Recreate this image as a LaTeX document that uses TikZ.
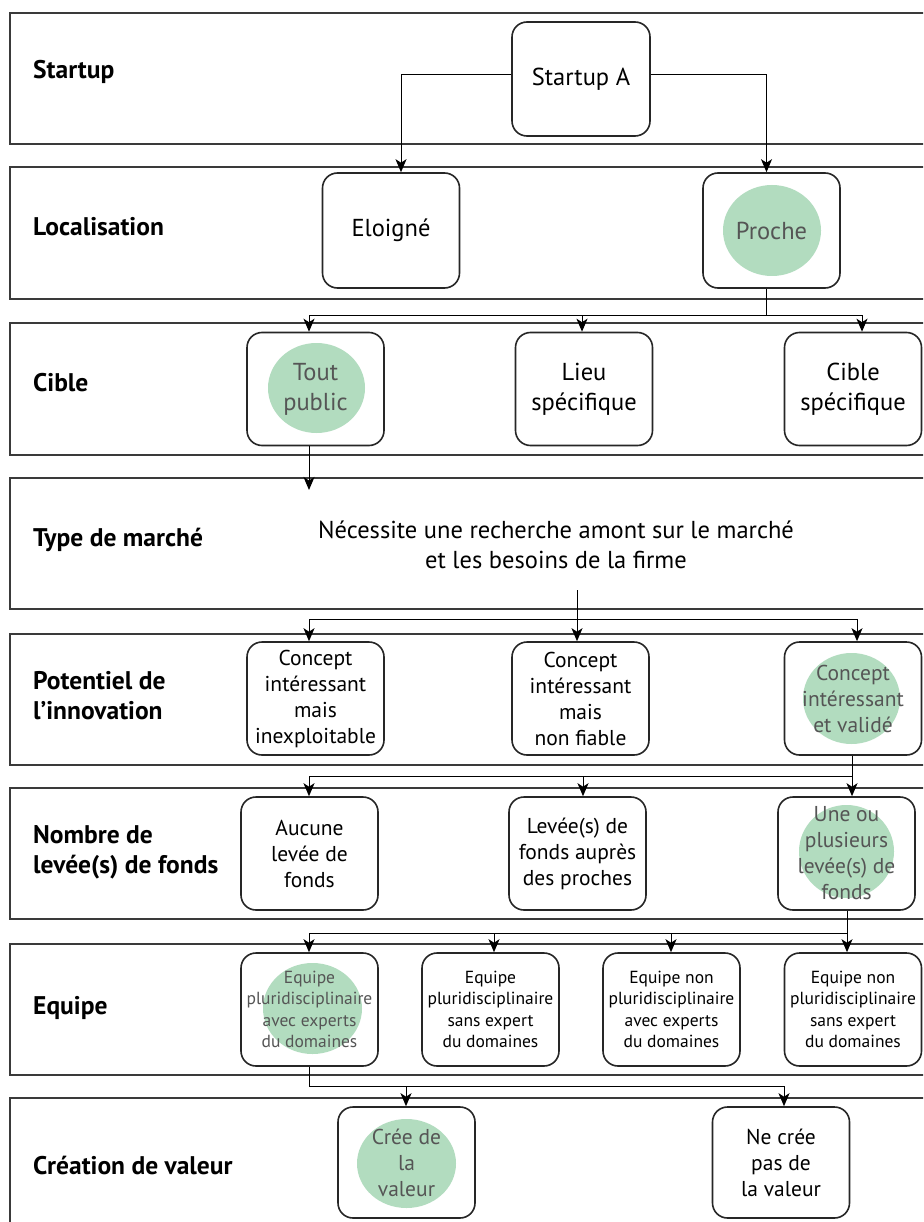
\documentclass[tikz,border=0pt]{standalone}
\usepackage{fontspec}
\setmainfont{PT Sans}
\usetikzlibrary{arrows.meta}
\definecolor{bandc}{HTML}{3A3A3A}
\definecolor{lgreen}{RGB}{178,220,191}
\definecolor{gtext}{HTML}{555555}
\begin{document}
\begin{tikzpicture}[x=1pt,y=-1pt,
  band/.style={draw=bandc, line width=1.5pt},
  box/.style={draw=black!85, line width=1.6pt, rounded corners=15pt, align=center, inner sep=0pt, minimum width=137pt, minimum height=113pt},
  lab/.style={anchor=west, align=left, inner sep=0pt, font=\bfseries\fontsize{25.5}{30}\selectfont},
  arr/.style={-{Stealth[length=13pt,width=11pt,inset=3.5pt]}, line width=1pt},
  ln/.style={line width=1pt},
  hl/.style={fill=lgreen, draw=none},
  big/.style={font=\fontsize{24.5}{30}\selectfont},
  mid/.style={font=\fontsize{21.5}{26}\selectfont},
  small/.style={font=\fontsize{17.5}{21.5}\selectfont},
  gt/.style={text=gtext}
]
\clip (0,0) rectangle (923,1222);
\fill[white] (0,0) rectangle (923,1222);

% bands
\draw[band] (10,13) rectangle (940,144);
\draw[band] (10,167) rectangle (940,299);
\draw[band] (10,323) rectangle (940,455);
\draw[band] (10,478) rectangle (940,609);
\draw[band] (10,634) rectangle (940,765);
\draw[band] (10,788) rectangle (940,919);
\draw[band] (10,944) rectangle (940,1075);
\draw[band] (10,1098) rectangle (940,1240);

% labels
\node[lab] (L1) at (33,72) {Startup};
\node[lab] (L2) at (33,227) {Localisation};
\node[lab] (L3) at (33,383) {Cible};
\node[lab] (L4) at (33,540) {Type de marché};
\node[lab] (L5) at (33,696) {Potentiel de\\l’innovation};
\node[lab] (L6) at (33,852) {Nombre de\\levée(s) de fonds};
\node[lab] (L7) at (33,1008) {Equipe};
\node[lab] (L8) at (33,1165) {Création de valeur};

% green highlights
\fill[hl] (772,230.5) ellipse [x radius=49, y radius=45.5];
\fill[hl] (316.5,388) ellipse [x radius=48.5, y radius=45];
\fill[hl] (851.5,698.5) ellipse [x radius=48.5, y radius=45.5];
\fill[hl] (846.5,851.5) ellipse [x radius=47.5, y radius=46.5];
\fill[hl] (312.5,1008.5) ellipse [x radius=49.5, y radius=45.5];
\fill[hl] (406.5,1163.5) ellipse [x radius=49.5, y radius=44.5];

% row 1
\node[box, big, minimum width=138pt, minimum height=114pt] (A) at (581,79) {Startup A};
% row 2
\node[box, big, minimum height=115pt] (elo) at (391,230.5) {Eloigné};
\node[box, big, gt, minimum height=115pt] (pro) at (771.5,230.5) {Proche};
% row 3
\node[box, big, gt] (tp) at (315.5,389) {Tout\\public};
\node[box, big] (lieu) at (584,389) {Lieu\\spécifique};
\node[box, big] (cs) at (853,389) {Cible\\spécifique};
% row 4
\node[big, align=center] (mk) at (556,545) {Nécessite une recherche amont sur le marché\\et les besoins de la firme};
% row 5
\node[box, mid] (c1) at (315.5,698.5) {Concept\\intéressant\\mais\\inexploitable};
\node[box, mid] (c2) at (580.5,698.5) {Concept\\intéressant\\mais\\non fiable};
\node[box, mid, gt] (c3) at (853,698.5) {Concept\\intéressant\\et validé};
% row 6
\node[box, mid] (l1) at (309.5,853.5) {Aucune\\levée de\\fonds};
\node[box, mid] (l2) at (577.5,853.5) {Levée(s) de\\fonds auprès\\des proches};
\node[box, mid, gt] (l3) at (846.5,853.5) {Une ou\\plusieurs\\levée(s) de\\fonds};
% row 7
\node[box, small, gt] (e1) at (309.5,1009.5) {Equipe\\pluridisciplinaire\\avec experts\\du domaines};
\node[box, small] (e2) at (490.5,1009.5) {Equipe\\pluridisciplinaire\\sans expert\\du domaines};
\node[box, small] (e3) at (671.5,1009.5) {Equipe non\\pluridisciplinaire\\avec experts\\du domaines};
\node[box, small] (e4) at (853,1009.5) {Equipe non\\pluridisciplinaire\\sans expert\\du domaines};
% row 8
\node[box, mid, gt, minimum height=111pt] (v1) at (406.5,1162.5) {Crée de\\la\\valeur};
\node[box, mid, minimum height=111pt] (v2) at (781,1162.5) {Ne crée\\pas de\\la valeur};

% connectors row1 -> row2
\draw[arr] ([yshift=4pt]A.west) -| ([xshift=10pt]elo.north);
\draw[arr] ([yshift=4pt]A.east) -| ([xshift=-5pt]pro.north);

% row2 -> row3
\coordinate (b2L) at (309,315);
\coordinate (b2M) at (582,315);
\coordinate (b2R) at (862,315);
\draw[ln] ([xshift=-5pt]pro.south) -- ([xshift=-5pt]pro.south |- b2L);
\draw[ln] (b2L) -- (b2R);
\draw[arr] (b2L) -- (b2L |- tp.north);
\draw[arr] (b2M) -- (b2M |- lieu.north);
\draw[arr] (b2R) -- (b2R |- cs.north);

% row3 -> row4
\coordinate (m4) at (309,490);
\draw[arr] (tp.south -| m4) -- (m4);

% row4 -> row5
\coordinate (m4b) at (577,590);
\coordinate (b4L) at (309,619);
\coordinate (b4M) at (577,619);
\coordinate (b4R) at (857,619);
\draw[ln] (m4b) -- (b4M);
\draw[ln] (b4L) -- (b4R);
\draw[arr] (b4L) -- (b4L |- c1.north);
\draw[arr] (b4M) -- (b4M |- c2.north);
\draw[arr] (b4R) -- (b4R |- c3.north);

% row5 -> row6
\coordinate (b5L) at (309,776);
\coordinate (b5M) at (583,776);
\coordinate (b5R) at (852,776);
\draw[ln] (c3.south -| b5R) -- (b5R);
\draw[ln] (b5L) -- (b5R);
\draw[arr] (b5L) -- (b5L |- l1.north);
\draw[arr] (b5M) -- (b5M |- l2.north);
\draw[arr] (b5R) -- (b5R |- l3.north);

% row6 -> row7
\coordinate (b6a) at (309,933);
\coordinate (b6b) at (494,933);
\coordinate (b6c) at (671,933);
\coordinate (b6d) at (847,933);
\draw[ln] (l3.south -| b6d) -- (b6d);
\draw[ln] (b6a) -- (b6d);
\draw[arr] (b6a) -- (b6a |- e1.north);
\draw[arr] (b6b) -- (b6b |- e2.north);
\draw[arr] (b6c) -- (b6c |- e3.north);
\draw[arr] (b6d) -- (b6d |- e4.north);

% row7 -> row8
\coordinate (b7a) at (309,1086);
\coordinate (b7b) at (406,1086);
\coordinate (b7c) at (784,1086);
\draw[ln] (e1.south -| b7a) -- (b7a);
\draw[ln] (b7a) -- (b7c);
\draw[arr] (b7b) -- (b7b |- v1.north);
\draw[arr] (b7c) -- (b7c |- v2.north);
\end{tikzpicture}
\end{document}
